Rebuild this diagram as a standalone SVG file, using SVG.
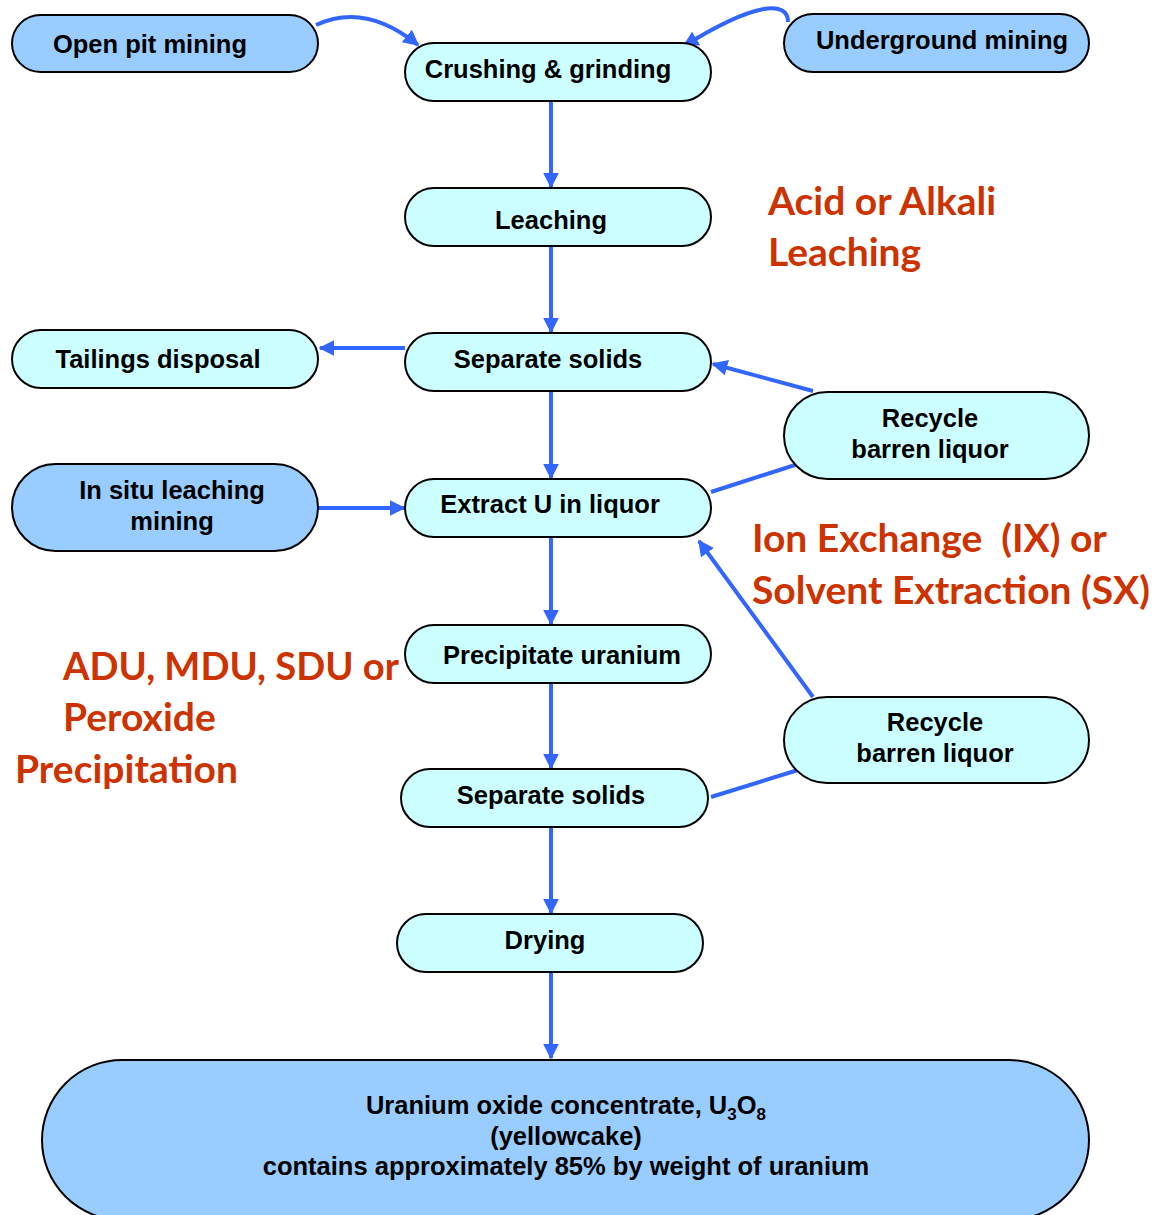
<svg xmlns="http://www.w3.org/2000/svg" width="1155" height="1215" viewBox="0 0 1155 1215">
<style>
.n rect{stroke:#000;stroke-width:2}
.c rect{fill:#CCFFFF}
.b rect{fill:#99CCFF}
.t{font-family:"Liberation Sans",Arial,sans-serif;font-weight:bold;font-size:25.5px;fill:#000;text-anchor:middle}
.o{font-family:Lato,"Open Sans",sans-serif;font-weight:bold;font-size:39px;fill:#CC3300}
.l{fill:none;stroke:#3366FF;stroke-width:4}
</style>
<defs>
<marker id="a" viewBox="0 0 10 10" refX="9" refY="5" markerWidth="4" markerHeight="4" orient="auto" markerUnits="strokeWidth">
<path d="M0,0 L10,5 L0,10 z" fill="#3366FF"/>
</marker>
</defs>
<g id="connectors">
<path class="l" d="M316,25 Q365,2 418,45" marker-end="url(#a)"/>
<path class="l" d="M788,22 C788,0 755,2 684,46" marker-end="url(#a)"/>
<path class="l" d="M551,101 L551,187" marker-end="url(#a)"/>
<path class="l" d="M551,246 L551,332" marker-end="url(#a)"/>
<path class="l" d="M405,348 L320,348" marker-end="url(#a)"/>
<path class="l" d="M813,391 L713,364" marker-end="url(#a)"/>
<path class="l" d="M551,391 L551,478" marker-end="url(#a)"/>
<path class="l" d="M711,492 L798,464"/>
<path class="l" d="M318,508 L404,508" marker-end="url(#a)"/>
<path class="l" d="M813,697 L699,541" marker-end="url(#a)"/>
<path class="l" d="M551,537 L551,624" marker-end="url(#a)"/>
<path class="l" d="M551,683 L551,768" marker-end="url(#a)"/>
<path class="l" d="M711,797 L798,770"/>
<path class="l" d="M551,827 L551,913" marker-end="url(#a)"/>
<path class="l" d="M551,972 L551,1058" marker-end="url(#a)"/>
</g>
<g id="open-pit" class="n b"><rect x="12" y="15" width="306" height="57" rx="28.5"/><text class="t" x="150" y="53">Open pit mining</text></g>
<g id="crushing" class="n c"><rect x="405" y="43" width="306" height="58" rx="29"/><text class="t" x="548" y="78">Crushing &amp; grinding</text></g>
<g id="underground" class="n b"><rect x="784" y="14" width="305" height="58" rx="29"/><text class="t" x="942" y="49">Underground mining</text></g>
<g id="leaching" class="n c"><rect x="405" y="188" width="306" height="58" rx="29"/><text class="t" x="551" y="229">Leaching</text></g>
<g id="tailings" class="n c"><rect x="12" y="330" width="306" height="58" rx="29"/><text class="t" x="158" y="368">Tailings disposal</text></g>
<g id="separate1" class="n c"><rect x="405" y="333" width="306" height="58" rx="29"/><text class="t" x="548" y="368">Separate solids</text></g>
<g id="recycle1" class="n c"><rect x="784" y="392" width="305" height="87" rx="43.5"/><text class="t" x="930" y="427">Recycle</text><text class="t" x="930" y="458">barren liquor</text></g>
<g id="insitu" class="n b"><rect x="12" y="464" width="306" height="87" rx="43.5"/><text class="t" x="172" y="499">In situ leaching</text><text class="t" x="172" y="530">mining</text></g>
<g id="extract" class="n c"><rect x="405" y="479" width="306" height="58" rx="29"/><text class="t" x="550" y="513">Extract U in liquor</text></g>
<g id="precipitate" class="n c"><rect x="405" y="625" width="306" height="58" rx="29"/><text class="t" x="562" y="664">Precipitate uranium</text></g>
<g id="recycle2" class="n c"><rect x="784" y="697" width="305" height="86" rx="43"/><text class="t" x="935" y="731">Recycle</text><text class="t" x="935" y="762">barren liquor</text></g>
<g id="separate2" class="n c"><rect x="401" y="769" width="307" height="58" rx="29"/><text class="t" x="551" y="804">Separate solids</text></g>
<g id="drying" class="n c"><rect x="397" y="914" width="306" height="58" rx="29"/><text class="t" x="545" y="949">Drying</text></g>
<g id="uranium" class="n b"><rect x="42" y="1060" width="1047" height="160" rx="80"/>
<text class="t" x="566" y="1114">Uranium oxide concentrate, U<tspan dy="6" style="font-size:17px">3</tspan><tspan dy="-6">O</tspan><tspan dy="6" style="font-size:17px">8</tspan></text>
<text class="t" x="566" y="1145">(yellowcake)</text>
<text class="t" x="566" y="1175">contains approximately 85% by weight of uranium</text>
</g>
<g id="labels">
<text class="o" x="768" y="215">Acid or Alkali</text>
<text class="o" x="768" y="266">Leaching</text>
<text class="o" x="752" y="552" xml:space="preserve">Ion Exchange  (IX) or</text>
<text class="o" x="752" y="604">Solvent Extraction (SX)</text>
<text class="o" x="63" y="680" textLength="336" lengthAdjust="spacingAndGlyphs">ADU, MDU, SDU or</text>
<text class="o" x="63" y="731">Peroxide</text>
<text class="o" x="15" y="783">Precipitation</text>
</g>
</svg>
